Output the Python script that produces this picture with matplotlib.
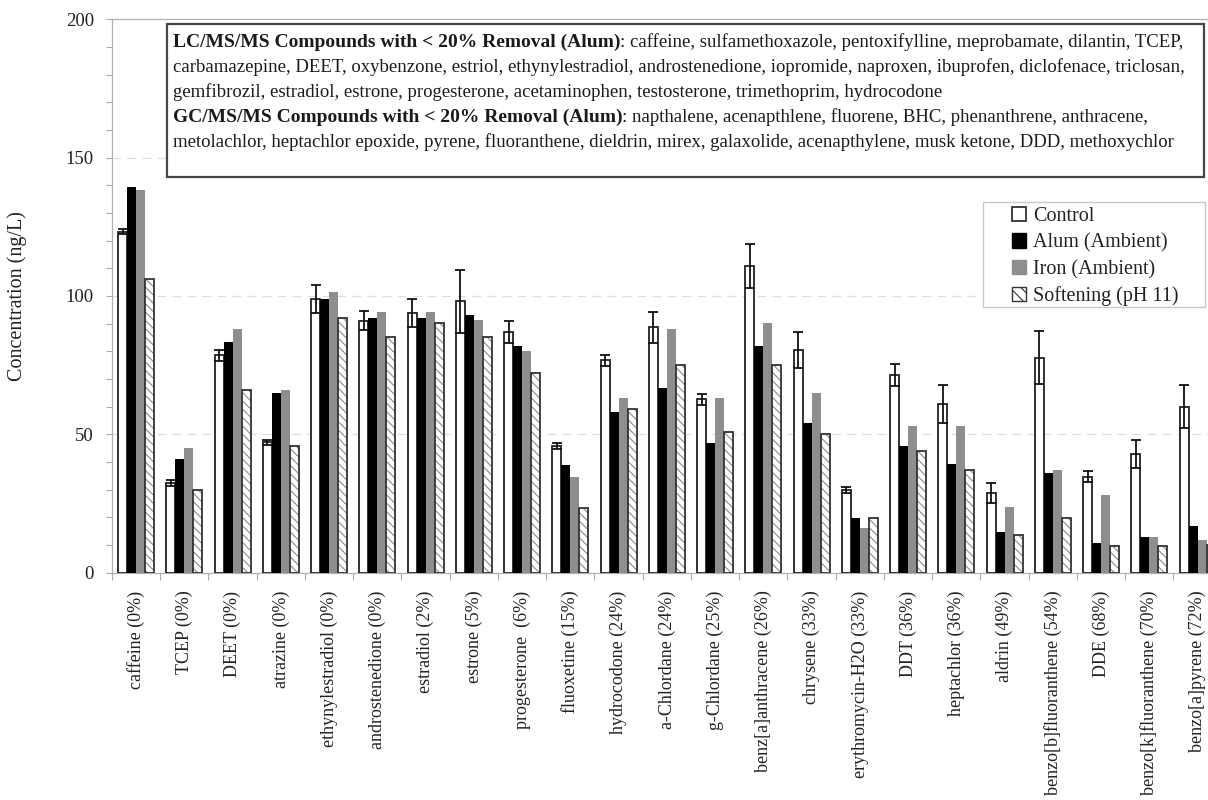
import numpy as np
import matplotlib.pyplot as plt
from matplotlib.patches import Rectangle, Patch

plt.rcParams['font.family'] = ['Liberation Serif', 'DejaVu Serif']
plt.rcParams['hatch.linewidth'] = 0.8

compounds = ["caffeine (0%)", "TCEP (0%)", "DEET (0%)", "atrazine (0%)",
             "ethynylestradiol (0%)", "androstenedione (0%)", "estradiol (2%)",
             "estrone (5%)", "progesterone  (6%)", "fluoxetine (15%)",
             "hydrocodone (24%)", "a-Chlordane (24%)", "g-Chlordane (25%)",
             "benz[a]anthracene (26%)", "chrysene (33%)", "erythromycin-H2O (33%)",
             "DDT (36%)", "heptachlor (36%)", "aldrin (49%)",
             "benzo[b]fluoranthene (54%)", "DDE (68%)",
             "benzo[k]fluoranthene (70%)", "benzo[a]pyrene (72%)"]
control = [123.2, 32.3, 78.6, 47.0, 98.8, 91.0, 93.9, 98.0, 86.8, 45.7, 76.8,
           88.6, 62.6, 110.8, 80.4, 29.8, 71.4, 60.9, 28.9, 77.7, 34.6, 42.8, 59.9]
control_err = [1.0, 1.2, 2.0, 1.0, 5.0, 3.5, 5.0, 11.5, 4.0, 1.0, 2.0,
               5.5, 2.0, 8.0, 6.4, 1.0, 4.0, 7.0, 3.6, 9.7, 2.0, 5.0, 7.8]
alum = [139.2, 41.0, 83.2, 64.9, 98.8, 92.1, 92.1, 93.1, 82.0, 38.9, 58.1,
        66.8, 46.7, 82.0, 53.9, 19.8, 45.7, 39.1, 14.5, 35.9, 10.8, 12.7, 16.9]
iron = [138.3, 44.9, 87.9, 65.9, 101.3, 94.1, 94.1, 91.3, 80.2, 34.6, 63.0,
        87.9, 63.0, 90.3, 64.8, 16.0, 53.0, 53.0, 23.8, 37.1, 28.0, 12.7, 11.7]
softening = [106.1, 29.8, 65.9, 45.7, 92.1, 85.0, 90.3, 85.0, 72.0, 23.4, 59.1,
             74.9, 50.9, 74.9, 49.9, 19.8, 43.9, 37.1, 13.6, 19.8, 9.7, 9.7, 10.0]

lc_head = "LC/MS/MS Compounds with < 20% Removal (Alum)"
lc_lines = [": caffeine, sulfamethoxazole, pentoxifylline, meprobamate, dilantin, TCEP,",
            "carbamazepine, DEET, oxybenzone, estriol, ethynylestradiol, androstenedione, iopromide, naproxen, ibuprofen, diclofenace, triclosan,",
            "gemfibrozil, estradiol, estrone, progesterone, acetaminophen, testosterone, trimethoprim, hydrocodone"]
gc_head = "GC/MS/MS Compounds with < 20% Removal (Alum)"
gc_lines = [": napthalene, acenapthlene, fluorene, BHC, phenanthrene, anthracene,",
            "metolachlor, heptachlor epoxide, pyrene, fluoranthene, dieldrin, mirex, galaxolide, acenapthylene, musk ketone, DDD, methoxychlor"]

W, H = 1208, 800
fig = plt.figure(figsize=(W / 100, H / 100), dpi=100)
fig.patch.set_facecolor('white')
# plot area runs a little past the right edge of the figure
ax = fig.add_axes([112 / W, 1 - 572.5 / H, (1221.75 - 112) / W, 553.2 / H])

x = np.arange(len(compounds))
w = 0.1865
gray = '#8e8e8e'
txt = '#222222'

ax.bar(x - 1.5 * w, control, w, color='white', edgecolor='#222222', linewidth=1.3, zorder=3)
ax.errorbar(x - 1.5 * w, control, yerr=control_err, fmt='none', ecolor='#111111',
            elinewidth=1.3, capsize=3.6, capthick=1.3, zorder=4)
ax.bar(x - 0.5 * w, alum, w, color='black', linewidth=0, zorder=3)
ax.bar(x + 0.5 * w, iron, w, color=gray, linewidth=0, zorder=3)
ax.bar(x + 1.5 * w, softening, w, color='white', edgecolor='#8a8a8a', hatch='\\\\\\\\',
       linewidth=0, zorder=3)
ax.bar(x + 1.5 * w, softening, w, fill=False, edgecolor='#333333', linewidth=1.3, zorder=3)

ax.set_xlim(-0.5, len(compounds) - 0.5)
ax.set_ylim(0, 200)
ax.set_yticks(np.arange(0, 201, 50))
ax.set_yticks(np.arange(0, 201, 10), minor=True)
ax.set_xticks(x)
ax.set_xticklabels(compounds, rotation=90, fontsize=13, color=txt)
ax.set_xticks(np.arange(-0.5, len(compounds), 1.0), minor=True)
ax.tick_params(axis='x', which='major', length=0, pad=13)
ax.tick_params(axis='x', which='minor', length=5, color='#aaaaaa', width=0.8)
ax.tick_params(axis='y', which='both', length=4, color='#aaaaaa', width=0.8,
               labelsize=13.5, labelcolor=txt, pad=9)

for v in (50, 100, 150):
    ax.axhline(v, color='#dedede', lw=0.9, ls=(0, (7, 5)), zorder=1)
for side in ('left', 'bottom', 'top'):
    ax.spines[side].set_color('#b0b0b0')
    ax.spines[side].set_linewidth(0.9)
ax.spines['right'].set_visible(False)

fig.text(17 / W, 1 - 296 / H, "Concentration (ng/L)", rotation=90, ha='center',
         va='center', fontsize=14.5, color=txt)

# legend: entries without frame, frame drawn as its own box
handles = [Patch(facecolor='white', edgecolor='#222222', linewidth=1.2, label='Control'),
           Patch(facecolor='black', edgecolor='black', label='Alum (Ambient)'),
           Patch(facecolor=gray, edgecolor=gray, label='Iron (Ambient)'),
           Patch(facecolor='white', edgecolor='#333333', hatch='\\\\\\', linewidth=1.0,
                 label='Softening (pH 11)')]
fig.add_artist(Rectangle((983 / W, 1 - 307 / H), (1205 - 983) / W, 105 / H,
                         transform=fig.transFigure, facecolor='white', edgecolor='#c8c8c8',
                         linewidth=1.0, zorder=4))
leg = fig.legend(handles=handles, loc='upper left', bbox_to_anchor=(1012 / W, 1 - 207 / H),
                 fontsize=14.5, frameon=False, handlelength=0.7, handleheight=0.7,
                 handletextpad=0.35, labelspacing=0.36, borderpad=0, borderaxespad=0)
leg.set_zorder(6)
for t in leg.get_texts():
    t.set_color(txt)

# removal summary box
fig.add_artist(Rectangle((166.5 / W, 1 - 177 / H), (1204 - 166.5) / W, 153 / H,
                         transform=fig.transFigure, facecolor='white', edgecolor='#444444',
                         linewidth=1.6, zorder=5))
renderer = fig.canvas.get_renderer()
tx = 172.7 / W


def box_line(y_px, bold, rest):
    y = 1 - y_px / H
    xr = tx
    if bold:
        t = fig.text(tx, y, bold, fontsize=14, fontweight='bold', va='baseline',
                     color='#1a1a1a', zorder=6)
        xr = t.get_window_extent(renderer).x1 / W
    if rest:
        fig.text(xr, y, rest, fontsize=13.5, va='baseline', color='#1a1a1a', zorder=6)


box_line(46.7, lc_head, lc_lines[0])
box_line(71.7, None, lc_lines[1])
box_line(96.7, None, lc_lines[2])
box_line(121.7, gc_head, gc_lines[0])
box_line(146.7, None, gc_lines[1])

fig.savefig('out.png', dpi=100)
